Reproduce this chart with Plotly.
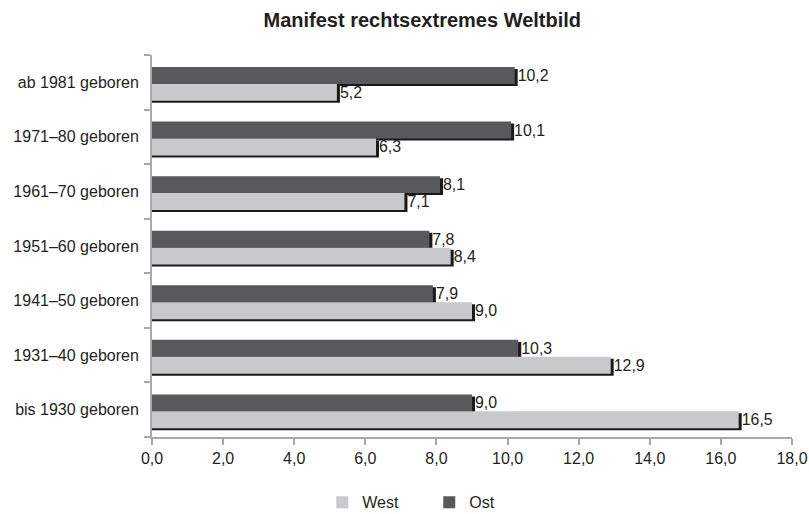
import plotly.graph_objects as go

categories = ["bis 1930 geboren", "1931–40 geboren", "1941–50 geboren", "1951–60 geboren",
              "1961–70 geboren", "1971–80 geboren", "ab 1981 geboren"]
west = [16.5, 12.9, 9.0, 8.4, 7.1, 6.3, 5.2]
ost = [9.0, 10.3, 7.9, 7.8, 8.1, 10.1, 10.2]
x_ticks = [0, 2, 4, 6, 8, 10, 12, 14, 16, 18]

FONT = "Liberation Sans Narrow, Arial Narrow, Liberation Sans, Arial, sans-serif"
C_WEST = "#c8c9cb"
C_OST = "#58595b"
SHADOW = "#1a1a1a"
W = 0.31
OFF = -0.03
SX = 0.085   # shadow shift along value axis
SY = 0.037   # shadow shift along category axis

def fmt(v):
    return f"{v:.1f}".replace(".", ",")

fig = go.Figure()
# shadows + bars
fig.add_trace(go.Bar(y=categories, x=[v + SX for v in ost], orientation="h",
                     offset=OFF - SY, width=W, marker=dict(color=SHADOW, line=dict(width=0)),
                     showlegend=False, hoverinfo="skip"))
fig.add_trace(go.Bar(y=categories, x=ost, orientation="h", name="Ost",
                     offset=OFF, width=W, marker=dict(color=C_OST, line=dict(width=0)),
                     text=[fmt(v) for v in ost], textposition="outside",
                     textfont=dict(family=FONT, size=16, color="#231f20"),
                     cliponaxis=False, legendrank=2))
fig.add_trace(go.Bar(y=categories, x=[v + SX for v in west], orientation="h",
                     offset=OFF - W - SY, width=W, marker=dict(color=SHADOW, line=dict(width=0)),
                     showlegend=False, hoverinfo="skip"))
fig.add_trace(go.Bar(y=categories, x=west, orientation="h", name="West",
                     offset=OFF - W, width=W, marker=dict(color=C_WEST, line=dict(width=0)),
                     text=[fmt(v) for v in west], textposition="outside",
                     textfont=dict(family=FONT, size=16, color="#231f20"),
                     cliponaxis=False, legendrank=1))

fig.update_layout(
    width=809, height=514,
    barmode="overlay",
    separators=",.",
    paper_bgcolor="white", plot_bgcolor="white",
    margin=dict(l=152, r=17, t=55, b=77, autoexpand=False),
    font=dict(family=FONT, size=16, color="#231f20"),
    title=dict(text="<b>Manifest rechtsextremes Weltbild</b>", x=0.522, xanchor="center",
               xref="container",
               y=0.961, yanchor="middle",
               font=dict(family=FONT, size=20, color="#231f20")),
    legend=dict(orientation="h", x=0.266, xanchor="left", y=-0.171, yanchor="middle",
                font=dict(size=16), traceorder="normal", itemwidth=30,
                entrywidth=62, entrywidthmode="pixels"),
)
fig.update_xaxes(range=[0, 18], tickvals=x_ticks, ticktext=[fmt(v) for v in x_ticks],
                 showgrid=False, zeroline=False, showline=True, linecolor="#a7a9ac", linewidth=2,
                 ticks="outside", ticklen=6, tickcolor="#a7a9ac", tickwidth=2,
                 tickfont=dict(size=16), automargin=False)
fig.update_yaxes(range=[-0.5, 6.5], type="category", tickson="boundaries",
                 showgrid=False, zeroline=False, showline=True, linecolor="#a7a9ac", linewidth=2,
                 ticks="outside", ticklen=6, tickcolor="#a7a9ac", tickwidth=2,
                 ticklabelstandoff=8, tickfont=dict(size=16), automargin=False)

fig.write_html("out.html", config={"displayModeBar": False},
               post_script="document.body.style.margin='0px';document.body.style.overflow='hidden';")
